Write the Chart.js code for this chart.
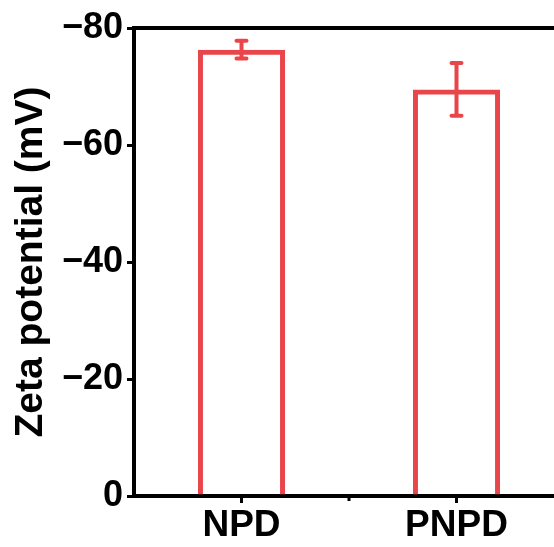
<!DOCTYPE html>
<html>
<head>
<meta charset="utf-8">
<script src="https://cdn.jsdelivr.net/npm/chart.js@4.4.1/dist/chart.umd.min.js"></script>
<style>
  html, body { margin: 0; padding: 0; background: #fff; overflow: hidden; }
</style>
</head>
<body>
<canvas id="zeta" width="570" height="547"></canvas>
<script>
// data
const samples = ["NPD", "PNPD"];
const zeta = [-76.3, -69.5];
const zetaErr = [1.5, 4.5];
const yTicks = [0, -20, -40, -60, -80];

const red = "#e9464b";
const font = "'Liberation Sans', Arial, sans-serif";

// error bars + top frame line + the small tick between the two bars
const extras = {
  id: "extras",
  afterDatasetsDraw(chart) {
    const ctx = chart.ctx;
    const y = chart.scales.y;
    const x = chart.scales.x;
    const area = chart.chartArea;
    const bars = chart.getDatasetMeta(0).data;

    ctx.save();
    ctx.strokeStyle = red;
    ctx.lineWidth = 4;
    ctx.lineCap = "round";
    bars.forEach(function(bar, i) {
      const hi = y.getPixelForValue(zeta[i] - zetaErr[i]);
      const lo = y.getPixelForValue(zeta[i] + zetaErr[i]);
      ctx.beginPath();
      ctx.moveTo(bar.x, hi);
      ctx.lineTo(bar.x, lo);
      ctx.moveTo(bar.x - 5, hi);
      ctx.lineTo(bar.x + 5, hi);
      ctx.moveTo(bar.x - 5, lo);
      ctx.lineTo(bar.x + 5, lo);
      ctx.stroke();
    });

    ctx.strokeStyle = "#000";
    ctx.lineCap = "butt";
    ctx.beginPath();
    ctx.moveTo(area.left - 2, area.top);
    ctx.lineTo(chart.width, area.top);
    ctx.stroke();

    const mid = (x.getPixelForTick(0) + x.getPixelForTick(1)) / 2;
    ctx.lineWidth = 3;
    ctx.beginPath();
    ctx.moveTo(mid, area.bottom);
    ctx.lineTo(mid, area.bottom + 5);
    ctx.stroke();
    ctx.restore();
  }
};

new Chart(document.getElementById("zeta"), {
  type: "bar",
  data: {
    labels: samples,
    datasets: [{
      data: zeta,
      backgroundColor: "rgba(0,0,0,0)",
      borderColor: red,
      borderWidth: 5,
      categoryPercentage: 1,
      barPercentage: 0.405
    }]
  },
  options: {
    responsive: false,
    animation: false,
    events: [],
    layout: { padding: { top: 28, right: 6, left: 0, bottom: 0 } },
    plugins: { legend: { display: false }, tooltip: { enabled: false } },
    scales: {
      x: {
        afterFit: function(s) { s.height = 51; },
        grid: {
          offset: false,
          drawOnChartArea: false,
          color: "#000",
          lineWidth: 3,
          tickLength: 7
        },
        border: { color: "#000", width: 4 },
        ticks: {
          color: "#000",
          padding: 1,
          font: { family: font, size: 37, weight: "bold" }
        }
      },
      y: {
        reverse: true,
        min: -80,
        max: 0,
        afterFit: function(s) { s.width = 134; },
        afterBuildTicks: function(s) {
          s.ticks = yTicks.map(function(v) { return { value: v }; });
        },
        grid: {
          drawOnChartArea: false,
          color: "#000",
          lineWidth: 3,
          tickLength: 7
        },
        border: { color: "#000", width: 4 },
        ticks: {
          color: "#000",
          padding: 4,
          font: { family: font, size: 36, weight: "bold" },
          callback: function(v) { return v < 0 ? "\u2212" + Math.abs(v) : String(v); }
        },
        title: {
          display: true,
          text: "Zeta potential (mV)",
          color: "#000",
          padding: { top: 8, bottom: 0 },
          font: { family: font, size: 39, weight: "bold" }
        }
      }
    }
  },
  plugins: [extras]
});
</script>
</body>
</html>
